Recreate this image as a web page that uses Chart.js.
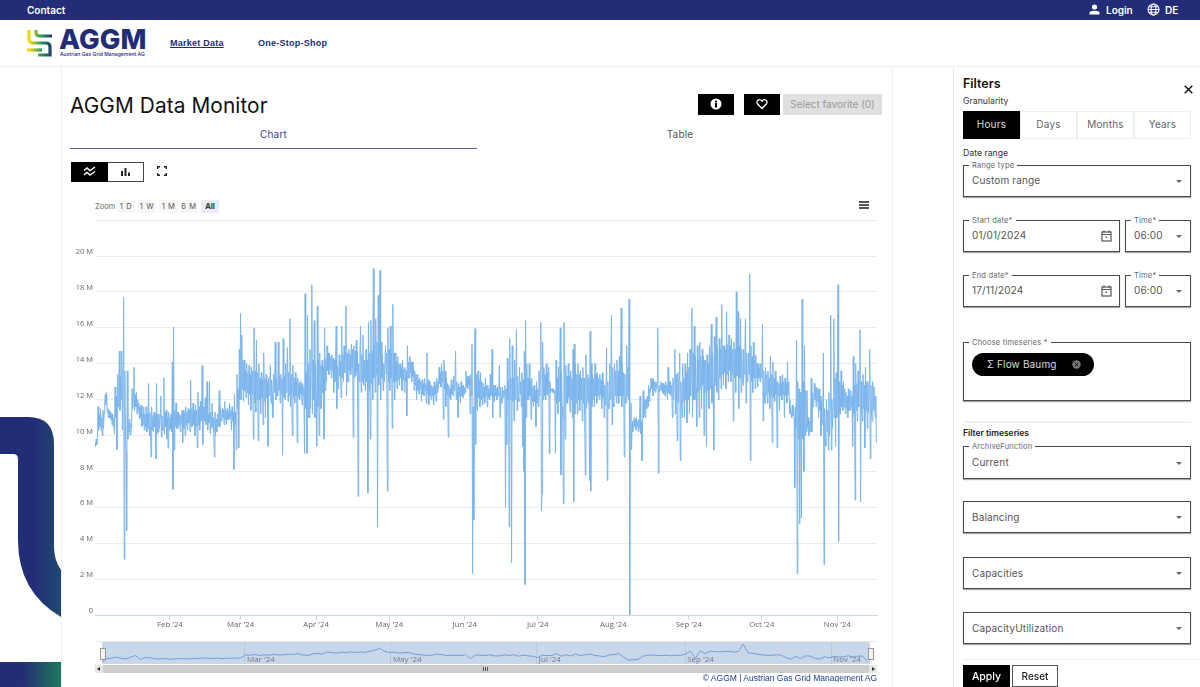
<!DOCTYPE html>
<html lang="en">
<head>
<meta charset="utf-8">
<title>AGGM Data Monitor</title>
<script src="https://cdn.jsdelivr.net/npm/chart.js@4"></script>
<style>
html, body { margin: 0; padding: 0; width: 1200px; height: 687px; overflow: hidden; background: #fff; font-family: Inter, "Open Sans", sans-serif; color: #222; }
.abs, .field, .btn, canvas { position: absolute; }
.topbar { left: 0; top: 0; width: 1200px; height: 20px; background: #232c77; }
.toptext { color: #fff; font-size: 10px; font-weight: 600; top: 4px; line-height: 12px; }
.navlink { top: 38px; font: bold 9px "Liberation Sans", sans-serif; letter-spacing: .25px; color: #232c77; }
.field { border: 1px solid #4a4a4a; box-shadow: 0 1px 1px #aaa; box-sizing: border-box; background: #fff; }
.field .lab { position: absolute; left: 5px; top: -5px; background: #fff; padding: 0 3px; font-size: 7.5px; line-height: 9px; color: #666; letter-spacing: .2px; white-space: nowrap; }
.field .val { position: absolute; left: 8px; top: 50%; transform: translateY(-50%); font-size: 10px; color: #555; letter-spacing: .15px; white-space: nowrap; }
.field .lab + .val { margin-top: -1px; }
.field .arr { position: absolute; right: 8px; top: 50%; margin-top: -1px; width: 0; height: 0; border-left: 3px solid transparent; border-right: 3px solid transparent; border-top: 3px solid #666; }
.gran { top: 111px; height: 28px; width: 57px; box-sizing: border-box; border: 1px solid #eee; text-align: center; line-height: 25px; font-size: 10px; color: #666; letter-spacing: .2px; }
.zbtn { top: 200px; height: 13px; line-height: 13px; background: #f7f7f7; text-align: center; font-size: 7.5px; letter-spacing: .6px; color: #555; }
.hamb { left: 859px; width: 10px; height: 1.5px; background: #555; }
</style>
</head>
<body>
<!-- left decoration -->
<svg class="abs" style="left:0;top:400px" width="61" height="287">
  <defs>
    <linearGradient id="decoA" x1="0" x2="1" y1="0" y2="0"><stop offset=".55" stop-color="#232c77"/><stop offset="1" stop-color="#1f4a70"/></linearGradient>
    <linearGradient id="decoB" x1="0" x2="1" y1="0" y2="0"><stop offset=".35" stop-color="#232c77"/><stop offset="1" stop-color="#1c7a5a"/></linearGradient>
  </defs>
  <path d="M0 17 H28 Q54 17 54 44 V147 Q54 160 61 170 V217 Q18 192 18 140 V59 Q18 54 13 54 H0 Z" fill="url(#decoA)"/>
  <rect x="0" y="262" width="61" height="25" fill="url(#decoB)"/>
</svg>

<!-- header -->
<div class="abs topbar"></div>
<div class="abs toptext" style="left:27px">Contact</div>
<svg class="abs" style="left:1089px;top:4px" width="11" height="11" viewBox="0 0 11 11"><circle cx="5.5" cy="3" r="2.6" fill="#fff"/><path d="M0.5 10.5 V8.8 Q0.5 6.8 5.5 6.8 Q10.5 6.8 10.5 8.8 V10.5 Z" fill="#fff"/></svg>
<div class="abs toptext" style="left:1106px">Login</div>
<svg class="abs" style="left:1147px;top:3px" width="13" height="13" viewBox="0 0 13 13" fill="none" stroke="#fff" stroke-width="1.1"><circle cx="6.5" cy="6.5" r="5.5"/><ellipse cx="6.5" cy="6.5" rx="2.4" ry="5.5"/><path d="M1 6.5H12M1.8 3.8H11.2M1.8 9.2H11.2"/></svg>
<div class="abs toptext" style="left:1165px">DE</div>

<svg class="abs" style="left:26px;top:28px" width="30" height="30" viewBox="0 0 30 30" fill="none" stroke-width="3.2">
  <defs>
    <linearGradient id="logoG" gradientUnits="userSpaceOnUse" x1="0" x2="27" y1="0" y2="0"><stop offset=".15" stop-color="#f2d90f"/><stop offset=".55" stop-color="#2c9a58"/><stop offset="1" stop-color="#232c77"/></linearGradient>
  </defs>
  <path d="M3 2 V11 Q3 15 7 15 H20 Q24 15 24 19 V27 H12" stroke="url(#logoG)"/>
  <path d="M10 2 V5 Q10 8 14 8 H26" stroke="url(#logoG)"/>
  <path d="M1 22 H16" stroke="url(#logoG)"/>
</svg>
<div class="abs" style="left:59px;top:24px;font:800 27.5px/30px Inter,sans-serif;color:#232c77;letter-spacing:.1px">AGGM</div>
<div class="abs" style="left:60px;top:51px;font:500 5.1px/7px Inter,sans-serif;color:#232c77;white-space:nowrap">Austrian Gas Grid Management AG</div>
<div class="abs navlink" style="left:170px;text-decoration:underline">Market Data</div>
<div class="abs navlink" style="left:258px">One-Stop-Shop</div>
<div class="abs" style="left:0;top:66px;width:1200px;height:1px;background:#eee"></div>

<!-- card -->
<div class="abs" style="left:61px;top:67px;width:1px;height:620px;background:#eee"></div>
<div class="abs" style="left:892px;top:67px;width:1px;height:620px;background:#eee"></div>
<div class="abs" style="left:70px;top:92px;font:400 20.8px/28px Inter,sans-serif;color:#111;letter-spacing:.1px">AGGM Data Monitor</div>

<div class="abs" style="left:698px;top:94px;width:36px;height:21px;background:#000"></div>
<svg class="abs" style="left:710px;top:98px" width="12" height="12" viewBox="0 0 12 12"><circle cx="6" cy="6" r="5.5" fill="#fff"/><rect x="5" y="5" width="2" height="4.5" fill="#000"/><rect x="5" y="2.6" width="2" height="1.7" fill="#000"/></svg>
<div class="abs" style="left:744px;top:94px;width:36px;height:21px;background:#000"></div>
<svg class="abs" style="left:756px;top:98px" width="12" height="12" viewBox="0 0 12 12" fill="none" stroke="#fff" stroke-width="1.3"><path d="M6 10.5 L1.6 6 Q0 3.6 2.2 2 Q4.4 1 6 3.2 Q7.6 1 9.8 2 Q12 3.6 10.4 6 Z"/></svg>
<div class="abs" style="left:783px;top:94px;width:99px;height:21px;background:#e0e0e0;color:#999;font-size:10px;line-height:21px;text-align:center;white-space:nowrap">Select favorite (0)</div>

<div class="abs" style="left:70px;top:128px;width:407px;text-align:center;font-size:10px;line-height:13px;color:#3d4382;letter-spacing:.2px">Chart</div>
<div class="abs" style="left:477px;top:128px;width:406px;text-align:center;font-size:10px;line-height:13px;color:#555;letter-spacing:.2px">Table</div>
<div class="abs" style="left:70px;top:148px;width:407px;height:1px;background:#5b6299"></div>

<div class="abs" style="left:71px;top:162px;width:73px;height:20px;box-sizing:border-box;border:1px solid #444"></div>
<div class="abs" style="left:71px;top:162px;width:37px;height:20px;background:#000"></div>
<svg class="abs" style="left:83px;top:166px" width="13" height="11" viewBox="0 0 13 11" fill="none" stroke="#fff" stroke-width="1.4"><path d="M1 4.5 L4 2 L7 4.5 L12 1"/><path d="M1 9 L4 6.5 L7 9 L12 5.5"/></svg>
<svg class="abs" style="left:120px;top:167px" width="11" height="10" viewBox="0 0 11 10" fill="#222"><rect x="1" y="4" width="2" height="5"/><rect x="4.5" y="1" width="2" height="8"/><rect x="8" y="5.5" width="2" height="3.5"/></svg>
<svg class="abs" style="left:157px;top:166px" width="10" height="10" viewBox="0 0 10 10" fill="none" stroke="#222" stroke-width="1.4"><path d="M.7 3 V.7 H3 M7 .7 H9.3 V3 M9.3 7 V9.3 H7 M3 9.3 H.7 V7"/></svg>

<!-- chart toolbar -->
<div class="abs" style="left:95px;top:200px;font-size:7.5px;line-height:13px;color:#666">Zoom</div>
<div class="abs zbtn" style="left:117px;width:18px">1 D</div>
<div class="abs zbtn" style="left:138px;width:18px">1 W</div>
<div class="abs zbtn" style="left:159px;width:19px">1 M</div>
<div class="abs zbtn" style="left:180px;width:18px">6 M</div>
<div class="abs zbtn" style="left:201px;width:18px;background:#e6ebf5;color:#333;font-weight:700;letter-spacing:0">All</div>
<div class="abs hamb" style="top:201px"></div>
<div class="abs hamb" style="top:204px"></div>
<div class="abs hamb" style="top:207px"></div>
<div class="abs" style="left:95px;top:220px;width:782px;height:1px;background:#e6e6e6"></div>

<canvas id="flowChart" width="830" height="416" style="left:60px;top:222px"></canvas>

<!-- navigator -->
<div class="abs" style="left:95px;top:641px;width:782px;height:1px;background:#e6e6e6"></div>
<canvas id="navChart" width="768" height="22" style="left:102px;top:642px;background:#cad6ea"></canvas>
<div class="abs" style="left:100px;top:648px;width:4px;height:10px;background:#f2f2f2;border:1px solid #999"></div>
<div class="abs" style="left:868px;top:648px;width:4px;height:10px;background:#f2f2f2;border:1px solid #999"></div>
<div class="abs" style="left:95px;top:665px;width:782px;height:8px;background:#ccc"></div>
<div class="abs" style="left:95px;top:665px;width:8px;height:8px;background:#e6e6e6"></div>
<div class="abs" style="left:869px;top:665px;width:8px;height:8px;background:#e6e6e6"></div>
<div class="abs" style="left:97px;top:667px;width:0;height:0;border:2px solid transparent;border-right:3px solid #333;border-left:0"></div>
<div class="abs" style="left:872px;top:667px;width:0;height:0;border:2px solid transparent;border-left:3px solid #333;border-right:0"></div>
<div class="abs" style="left:483px;top:667px;width:5px;height:4px;background:repeating-linear-gradient(90deg,#555 0 1px,#ccc 1px 2px)"></div>
<div class="abs" style="left:600px;top:673px;width:277px;height:9px;overflow:hidden;text-align:right;font:8.5px/10px 'Liberation Sans',sans-serif;color:#1a3f8f;white-space:nowrap">© AGGM | Austrian Gas Grid Management AG</div>

<!-- filters -->
<div class="abs" style="left:953px;top:67px;width:1px;height:620px;background:#e8e8e8"></div>
<div class="abs" style="left:963px;top:76px;font:600 12.5px/16px Inter,sans-serif;color:#111">Filters</div>
<svg class="abs" style="left:1184px;top:85px" width="9" height="9" viewBox="0 0 9 9" stroke="#111" stroke-width="1.4"><path d="M.7 .7 L8.3 8.3 M8.3 .7 L.7 8.3"/></svg>
<div class="abs" style="left:963px;top:96px;font-size:8.7px;line-height:11px;color:#333">Granularity</div>
<div class="abs gran" style="left:963px;background:#000;color:#ddd;border-color:#000">Hours</div>
<div class="abs gran" style="left:1020px">Days</div>
<div class="abs gran" style="left:1077px">Months</div>
<div class="abs gran" style="left:1134px">Years</div>
<div class="abs" style="left:963px;top:148px;font-size:8.7px;line-height:11px;color:#333">Date range</div>

<div class="field" style="left:963px;top:165px;width:228px;height:32px"><span class="lab">Range type</span><span class="val">Custom range</span><span class="arr"></span></div>
<div class="field" style="left:963px;top:220px;width:157px;height:32px"><span class="lab">Start date*</span><span class="val">01/01/2024</span>
  <svg style="position:absolute;left:137px;top:9px" width="11" height="12" viewBox="0 0 11 12" fill="none" stroke="#555" stroke-width="1.2"><rect x="1" y="2" width="9" height="9"/><path d="M1 4.5H10M3 .5V2.5M8 .5V2.5"/><rect x="4.5" y="6.5" width="1.5" height="1.5" fill="#555" stroke="none"/></svg></div>
<div class="field" style="left:1125px;top:220px;width:66px;height:32px"><span class="lab">Time*</span><span class="val">06:00</span><span class="arr"></span></div>
<div class="field" style="left:963px;top:275px;width:157px;height:32px"><span class="lab">End date*</span><span class="val">17/11/2024</span>
  <svg style="position:absolute;left:137px;top:9px" width="11" height="12" viewBox="0 0 11 12" fill="none" stroke="#555" stroke-width="1.2"><rect x="1" y="2" width="9" height="9"/><path d="M1 4.5H10M3 .5V2.5M8 .5V2.5"/><rect x="4.5" y="6.5" width="1.5" height="1.5" fill="#555" stroke="none"/></svg></div>
<div class="field" style="left:1125px;top:275px;width:66px;height:32px"><span class="lab">Time*</span><span class="val">06:00</span><span class="arr"></span></div>

<div class="field" style="left:963px;top:342px;width:228px;height:59px"><span class="lab">Choose timeseries *</span></div>
<div class="abs" style="left:972px;top:353px;width:122px;height:23px;border-radius:12px;background:#000"></div>
<div class="abs" style="left:987px;top:353px;font-size:10px;line-height:23px;color:#ddd;letter-spacing:.15px;white-space:nowrap">Σ Flow Baumg</div>
<svg class="abs" style="left:1072px;top:360px" width="9" height="9" viewBox="0 0 9 9"><circle cx="4.5" cy="4.5" r="4.2" fill="#777"/><path d="M2.8 2.8 L6.2 6.2 M6.2 2.8 L2.8 6.2" stroke="#111" stroke-width="1"/></svg>

<div class="abs" style="left:963px;top:421px;width:228px;height:2px;background:#f0f0f0"></div>
<div class="abs" style="left:963px;top:428px;font-size:8.5px;line-height:11px;font-weight:600;color:#222">Filter timeseries</div>
<div class="field" style="left:963px;top:446px;width:228px;height:33px"><span class="lab">ArchiveFunction</span><span class="val">Current</span><span class="arr"></span></div>
<div class="field" style="left:963px;top:501px;width:228px;height:32px"><span class="val">Balancing</span><span class="arr"></span></div>
<div class="field" style="left:963px;top:557px;width:228px;height:32px"><span class="val">Capacities</span><span class="arr"></span></div>
<div class="field" style="left:963px;top:612px;width:228px;height:32px"><span class="val">CapacityUtilization</span><span class="arr"></span></div>
<div class="abs" style="left:963px;top:659px;width:237px;height:1px;background:#eee"></div>
<div class="abs" style="left:963px;top:665px;width:47px;height:22px;background:#000;color:#fff;font-size:10.5px;font-weight:500;line-height:24px;text-align:center">Apply</div>
<div class="abs" style="left:1012px;top:665px;width:46px;height:22px;box-sizing:border-box;border:1px solid #555;color:#222;font-size:10px;font-weight:500;line-height:20px;text-align:center">Reset</div>

<script>
// flow, four readings per day, in millions (one row = five days)
const janFlow = [
    9.6,9.4,9.8,9.5, 9.9,11.6,10.3,11.2, 10.5,11.5,10.3,11.0, 10.0,11.4,10.4,11.2, 11.8,12.3,11.7,12.4,
    11.3,11.5,11.0,11.4, 11.0,11.3,10.9,11.2, 10.6,11.2,10.5,11.0, 10.1,12.7,11.0,12.2, 9.2,13.4,11.6,12.8,
    14.7,11.4,13.3,12.0, 14.7,10.3,13.8,17.7, 3.1,13.6,10.2,9.1, 4.7,13.6,9.8,10.7, 10.2,10.9,10.0,10.6,
    10.4,12.6,11.5,12.4, 13.8,11.4,12.3,11.6, 12.4,11.2,12.0,11.4, 11.8,10.9,11.6,11.0, 11.7,10.5,11.2,10.6,
    11.6,10.3,11.2,10.5, 11.6,10.2,11.2,10.4, 12.9,10.0,11.3,10.5, 8.8,11.6,10.3,11.1, 10.2,11.3,10.5,11.2,
    8.7,12.9,10.1,11.2, 10.2,11.2,10.4,11.0, 12.2,9.9,11.1,10.3, 10.3,13.2,10.1,11.3, 10.5,11.4,9.8,11.0,
    9.3,11.3,10.3,11.0];
const febFlow = [
    10.4,11.2,10.2,14.1, 7.0,16.05,9.2,11.4, 10.5,11.8,10.4,11.3, 10.4,11.3,10.6,11.2, 10.2,11.1,10.7,11.4,
    9.6,11.4,10.4,11.2, 10.0,11.6,10.6,11.3, 10.3,11.5,10.7,11.4, 10.2,13.1,10.5,11.5, 10.5,11.8,10.6,11.4,
    10.0,11.7,10.5,11.4, 9.3,12.4,10.6,11.6, 10.3,11.9,10.8,11.5, 13.9,9.5,11.0,11.6, 10.8,12.1,10.6,11.5,
    13.0,10.3,11.2,10.7, 13.0,10.1,11.3,10.4, 11.8,10.5,11.0,10.2, 8.8,11.3,10.0,10.9, 10.2,11.2,10.5,11.0,
    12.5,10.5,11.6,10.9, 10.8,11.5,11.0,11.4, 10.6,11.9,10.9,11.4, 10.6,11.5,10.9,11.3, 10.9,11.8,11.0,11.4,
    10.3,11.6,10.8,11.3, 8.1,12.3,10.6,11.3, 9.2,13.4,11.5,12.6, 9.3,14.8,12.0,16.8];
const marFlow = [
    12.0,15.6,12.6,14.2, 11.9,14.2,12.5,13.6, 12.1,14.0,12.4,13.5, 11.7,13.9,12.3,13.4, 11.4,13.8,12.3,13.6,
    9.8,16.0,11.8,13.6, 11.3,15.3,12.0,13.5, 9.7,14.0,12.0,13.2, 11.2,13.5,12.1,13.1, 10.6,14.6,11.9,13.2,
    11.0,13.4,12.1,13.0, 9.4,13.2,12.2,13.0, 13.9,11.8,13.1,12.3, 11.0,13.4,12.4,13.2, 15.2,12.0,13.2,12.4,
    12.2,15.2,12.5,13.3, 11.8,13.4,12.3,13.2, 8.9,15.4,12.1,13.3, 12.0,14.0,12.4,13.4, 14.9,11.9,13.5,12.2,
    16.5,11.6,13.4,12.3, 10.0,13.9,12.1,13.2, 11.8,13.5,12.2,13.0, 9.6,13.2,12.1,12.9, 12.0,13.0,12.3,12.8,
    11.7,12.9,12.2,12.7, 9.0,17.9,11.5,13.5, 9.0,16.7,11.0,14.0, 11.0,14.8,11.5,13.7, 18.4,11.2,14.2,12.0,
    16.4,11.0,14.0,12.0];
const aprFlow = [
    9.4,17.2,11.6,14.2, 10.0,14.6,11.5,13.9, 11.5,14.2,12.4,13.8, 9.8,16.0,12.5,14.3, 13.0,15.0,13.6,14.6,
    13.4,14.6,13.7,14.4, 13.2,14.5,13.6,14.3, 12.4,14.2,13.0,13.8, 16.1,11.5,13.9,12.6, 13.0,14.5,13.3,14.1,
    12.1,16.1,13.2,14.5, 13.0,15.0,13.5,14.6, 17.2,12.2,14.6,13.0, 13.0,14.8,13.6,14.5, 13.4,15.1,13.8,14.8,
    9.9,15.0,13.2,14.7, 13.3,15.3,13.5,14.6, 6.6,14.0,13.0,14.6, 16.1,12.4,14.5,13.0, 15.6,12.8,14.2,13.2,
    12.5,14.8,13.0,14.2, 6.8,16.3,12.5,14.6, 9.8,16.4,12.9,14.7, 12.0,19.3,13.2,15.0, 12.4,16.5,13.4,15.2,
    4.9,17.8,12.8,15.0, 19.2,12.0,15.2,13.2, 14.5,12.5,14.0,13.0, 13.0,15.0,13.4,14.6, 6.9,16.0,13.0,14.8];
const mayFlow = [
    12.5,16.1,13.2,14.6, 10.4,17.3,13.0,14.6, 12.0,14.6,13.0,14.1, 12.6,14.4,13.1,14.0, 12.8,14.0,13.2,13.8,
    12.5,14.2,13.1,13.7, 12.4,13.8,13.0,13.6, 11.1,15.0,13.2,14.1, 13.2,14.4,13.5,14.1, 13.0,14.1,13.3,13.8,
    12.5,13.6,12.8,13.4, 12.0,13.4,12.5,13.1, 12.3,13.2,12.6,13.0, 11.9,13.1,12.3,12.9, 12.2,13.2,12.5,12.9,
    11.8,14.6,12.3,13.1, 11.7,13.0,12.2,12.8, 12.0,12.8,12.2,12.7, 11.7,13.0,12.3,12.8, 11.9,13.2,12.4,13.0,
    12.6,13.8,12.9,13.5, 12.7,14.0,13.0,13.6, 10.9,14.2,12.6,13.6, 11.6,13.2,12.3,12.9, 9.9,12.8,12.1,12.6,
    12.0,13.1,12.3,12.8, 12.2,13.3,12.5,13.0, 14.7,12.0,13.0,12.4, 11.0,12.9,12.2,12.7, 11.8,13.0,12.2,12.8,
    12.1,12.8,12.3,12.7];
const junFlow = [
    12.4,13.6,12.7,13.3, 12.6,13.3,12.8,13.2, 11.2,13.4,12.2,15.1, 2.3,11.6,5.3,13.8, 15.95,9.5,13.4,11.8,
    11.4,13.6,12.1,13.1, 11.6,13.5,12.0,13.0, 11.7,12.9,12.1,12.7, 11.8,13.2,12.2,12.8, 11.6,12.8,12.1,12.6,
    12.0,13.4,12.2,12.8, 14.8,11.0,12.8,12.1, 11.9,12.8,12.2,12.6, 12.0,12.7,12.2,12.6, 13.9,11.0,12.7,12.1,
    11.8,12.7,12.1,12.5, 12.2,12.8,6.0,12.6, 9.5,14.3,12.0,13.0, 4.9,15.4,12.0,13.2, 2.9,15.0,11.9,13.2,
    10.8,14.2,12.0,13.0, 15.9,11.4,13.3,12.1, 11.9,13.8,12.3,13.0, 11.6,13.5,9.4,13.1, 8.0,14.7,1.7,16.4,
    11.0,14.0,12.0,13.2, 12.0,14.0,12.2,13.0, 10.9,13.2,11.9,12.7, 11.6,12.8,11.9,12.5, 10.5,13.0,11.8,12.6];
const julFlow = [
    11.6,13.6,12.2,13.2, 16.3,5.8,6.8,15.2, 12.0,13.8,12.2,13.4, 12.0,14.0,12.3,13.5, 12.2,13.8,9.0,13.0,
    12.4,12.6,12.5,12.6, 12.4,12.6,12.3,12.5, 9.0,14.2,11.8,13.2, 11.2,13.8,11.9,13.4, 16.0,7.8,13.6,11.6,
    11.0,6.2,16.3,12.0, 9.8,13.9,11.8,13.3, 11.8,14.0,12.1,13.3, 11.3,13.6,12.0,13.2, 11.0,14.8,6.3,15.1,
    11.2,14.0,11.8,13.4, 11.2,14.0,12.0,13.4, 11.4,13.6,12.0,13.2, 10.8,13.8,11.8,13.2, 11.2,7.8,14.5,11.5,
    12.0,13.4,11.8,13.2, 7.5,15.8,6.9,14.0, 11.6,13.4,12.0,13.2, 11.6,14.0,12.2,13.4, 11.8,13.5,12.2,13.2,
    12.0,13.4,12.3,13.1, 11.5,13.5,12.1,13.0, 11.0,12.8,11.7,12.6, 14.9,7.5,13.0,11.5, 11.5,14.0,12.0,13.4,
    16.7,10.6,13.8,11.8];
const augFlow = [
    11.6,14.0,12.2,13.6, 11.8,14.2,12.2,13.6, 11.8,14.4,12.2,13.8, 17.1,11.6,14.0,12.2, 13.5,8.8,13.4,11.8,
    11.8,15.0,12.2,13.8, 12.0,17.6,0,11.0, 11.8,9.2,10.8,10.2, 10.6,11.0,10.5,10.9, 10.3,11.0,10.5,10.8,
    10.2,10.9,10.4,12.2, 10.1,10.8,8.6,10.5, 12.5,11.0,12.0,11.4, 11.0,12.0,11.5,12.2, 11.6,12.8,11.9,12.6,
    12.4,13.2,12.6,13.1, 12.2,13.2,12.5,13.0, 12.4,13.0,12.6,12.9, 16.0,7.9,12.8,12.4, 12.6,13.0,12.5,12.9,
    12.4,12.9,12.3,12.8, 12.2,13.0,12.4,12.8, 12.0,13.8,12.4,13.0, 12.3,13.0,12.2,12.8, 11.0,13.2,12.0,13.0,
    14.8,11.2,13.4,11.9, 9.7,13.5,11.8,13.2, 14.6,8.6,13.0,11.8, 11.0,14.0,11.9,13.2, 11.0,14.0,12.0,13.5,
    10.7,14.6,12.0,13.8];
const sepFlow = [
    11.2,14.8,12.2,14.0, 17.1,11.0,14.6,12.0, 16.1,12.0,14.4,12.6, 10.5,15.0,12.4,14.2, 11.0,15.2,12.6,14.4,
    11.5,14.8,12.8,14.4, 10.0,14.2,12.4,14.2, 9.4,14.5,12.5,14.0, 11.5,15.0,12.6,14.2, 16.2,11.8,14.6,12.8,
    9.2,15.5,12.8,14.5, 16.6,12.4,15.0,13.2, 12.0,15.4,13.2,14.8, 12.6,17.3,13.4,15.0, 12.8,15.0,13.5,14.8,
    12.6,16.9,13.4,15.1, 13.0,15.6,13.6,15.0, 13.0,15.4,13.4,14.8, 10.8,15.2,13.2,14.8, 12.4,18.0,13.3,15.0,
    16.9,11.5,15.0,13.2, 16.5,12.4,14.8,13.2, 12.8,14.8,13.4,14.4, 16.5,11.8,14.6,13.0, 13.2,14.6,13.4,19.0,
    8.6,15.0,13.0,14.4, 12.4,15.2,13.2,14.2, 12.6,14.5,13.2,14.0, 12.7,14.0,13.2,13.8, 13.0,14.0,13.2,13.8];
const octFlow = [
    16.2,10.8,13.6,12.4, 11.8,13.8,12.3,13.4, 11.8,13.6,12.4,13.2, 11.5,14.4,12.2,13.4, 9.6,14.1,12.1,13.2,
    11.9,13.6,12.3,13.0, 9.3,13.0,12.2,12.9, 11.4,13.3,12.2,12.9, 12.0,13.4,12.3,13.0, 11.0,13.2,12.2,12.9,
    11.8,14.1,12.3,13.0, 12.0,11.2,11.6,11.2, 11.0,11.7,11.1,11.6, 11.0,7.1,11.6,10.4, 15.3,2.3,13.0,9.8,
    12.6,5.1,12.4,10.0, 5.4,17.6,9.8,13.0, 8.0,15.0,10.0,12.5, 10.2,12.5,10.4,11.0, 10.0,10.8,10.2,10.7,
    13.2,10.2,12.4,11.6, 11.8,12.9,12.0,12.7, 11.6,12.7,11.9,12.6, 11.0,12.6,11.4,12.2, 10.0,12.0,10.6,11.6,
    14.6,2.8,11.5,9.8, 9.4,12.0,10.2,11.4, 9.2,12.4,10.0,11.6, 16.7,9.2,12.0,10.4, 11.5,16.5,11.0,13.2,
    9.4,13.5,11.0,13.0];
const novFlow = [
    18.4,4.1,13.0,11.2, 11.2,13.6,11.6,12.8, 11.4,13.0,11.6,12.6, 11.2,12.4,11.5,12.2, 11.0,12.6,11.4,12.2,
    11.4,12.5,11.6,12.2, 9.4,14.4,11.2,12.8, 6.4,14.0,11.4,12.9, 10.8,13.6,11.6,13.0, 15.9,6.3,13.0,11.2,
    10.8,13.4,11.5,12.8, 9.3,13.8,11.4,13.0, 10.4,13.0,11.3,12.8, 14.8,8.7,12.8,11.2, 10.8,13.0,11.4,12.7,
    12.0,11.0,12.2,9.6];

// coarser series shown in the navigator, one reading every two days
const navFlow = [9.6,11.0,11.3,11.8,11.2,10.9,11.7,12.6,10.6,11.6,11.5,11.0,10.9,11.1,10.8,10.9,
    11.1,11.0,10.9,11.2,11.0,11.4,11.2,11.0,11.4,11.0,11.3,11.2,11.3,11.4,
    12.8,12.7,13.0,12.6,12.9,12.7,13.1,12.8,12.9,13.2,13.0,13.4,12.8,12.6,13.3,13.6,
    13.2,14.2,14.0,13.6,14.2,13.8,14.3,14.0,14.2,14.1,14.6,15.0,16.0,14.6,14.0,
    14.2,13.7,13.9,14.0,13.4,13.0,12.8,12.6,12.7,13.3,13.0,12.5,12.6,12.7,12.5,13.0,
    11.0,12.8,12.7,12.5,12.9,12.4,12.3,12.9,12.5,12.9,12.2,12.7,12.4,12.2,
    11.5,12.7,12.5,12.6,13.4,12.2,12.9,12.3,13.3,12.5,12.9,13.2,12.6,12.3,12.0,12.8,
    13.1,13.4,11.8,10.4,10.5,10.7,12.2,12.7,12.8,12.6,12.5,12.7,12.4,12.6,12.7,
    13.2,14.6,11.2,14.8,13.4,14.6,14.4,14.3,14.5,14.6,14.2,14.5,18.0,13.8,13.6,
    13.2,12.8,12.7,12.6,12.9,12.7,11.4,10.8,12.2,11.0,12.4,12.3,11.2,10.8,12.0,11.4,
    12.2,11.8,12.0,12.4,11.9,12.3,12.2,9.6];

const tickDates = ['2024-02-01','2024-03-01','2024-04-01','2024-05-01','2024-06-01','2024-07-01','2024-08-01','2024-09-01','2024-10-01','2024-11-01'];
const tickLabels = ["Feb '24","Mar '24","Apr '24","May '24","Jun '24","Jul '24","Aug '24","Sep '24","Oct '24","Nov '24"];
const navTickDates = ['2024-03-01','2024-05-01','2024-07-01','2024-09-01','2024-11-01'];
const navTickLabels = ["Mar '24","May '24","Jul '24","Sep '24","Nov '24"];

const startDate = Date.parse('2024-01-01T06:00:00Z');
const endDate = Date.parse('2024-11-17T06:00:00Z');
const flowStep = 6 * 3600 * 1000;
const navStep = 2 * 24 * 3600 * 1000;
const lineColor = '#7cb5ec';

function drawFlowChart() {
    const flowValues = [].concat(janFlow, febFlow, marFlow, aprFlow, mayFlow, junFlow, julFlow, augFlow, sepFlow, octFlow, novFlow);
    const points = flowValues.map((v, i) => ({ x: startDate + i * flowStep, y: v }));
    new Chart(document.getElementById('flowChart'), {
        type: 'line',
        data: { datasets: [{ data: points, borderColor: lineColor, borderWidth: 1, pointRadius: 0, fill: false, tension: 0 }] },
        options: {
            responsive: false,
            animation: false,
            events: [],
            layout: { padding: { top: 34, right: 13 } },
            plugins: { legend: { display: false }, tooltip: { enabled: false } },
            scales: {
                x: {
                    type: 'linear',
                    min: startDate,
                    max: endDate,
                    afterBuildTicks: (scale) => { scale.ticks = tickDates.map(d => ({ value: Date.parse(d) })); },
                    afterFit: (scale) => { scale.height = 23; },
                    grid: { drawOnChartArea: false, tickLength: 5, tickColor: '#ccd6eb' },
                    border: { color: '#ccd6eb' },
                    ticks: {
                        autoSkip: false, maxRotation: 0, padding: 0, color: '#666',
                        font: { family: 'Open Sans', size: 7.8 },
                        callback: (value, index) => tickLabels[index]
                    }
                },
                y: {
                    min: 0,
                    max: 20,
                    afterFit: (scale) => { scale.width = 35; },
                    grid: { color: '#ececec', drawTicks: false },
                    border: { display: false },
                    ticks: {
                        stepSize: 2, padding: 2, labelOffset: -4, color: '#666',
                        font: { family: 'Open Sans', size: 7.5 },
                        callback: (value) => value === 0 ? '0' : value + ' M'
                    }
                }
            }
        }
    });
}

// labels of the navigator sit inside its plot, so they are written after the line
const navLabels = {
    id: 'navLabels',
    afterDatasetsDraw(chart) {
        const ctx = chart.ctx;
        ctx.save();
        ctx.font = '8px "Open Sans"';
        ctx.fillStyle = '#777';
        ctx.textBaseline = 'bottom';
        navTickDates.forEach((d, i) => {
            ctx.fillText(navTickLabels[i], chart.scales.x.getPixelForValue(Date.parse(d)) + 2, chart.chartArea.bottom);
        });
        ctx.restore();
    }
};

function drawNavigator() {
    const points = navFlow.map((v, i) => ({ x: startDate + i * navStep, y: v }));
    new Chart(document.getElementById('navChart'), {
        type: 'line',
        data: { datasets: [{ data: points, borderColor: '#6f9fd8', borderWidth: 1, pointRadius: 0, fill: false, tension: 0 }] },
        plugins: [navLabels],
        options: {
            responsive: false,
            animation: false,
            events: [],
            layout: { padding: 0 },
            plugins: { legend: { display: false }, tooltip: { enabled: false } },
            scales: {
                x: {
                    type: 'linear',
                    min: startDate,
                    max: endDate,
                    afterBuildTicks: (scale) => { scale.ticks = navTickDates.map(d => ({ value: Date.parse(d) })); },
                    afterFit: (scale) => { scale.height = 0; },
                    grid: { color: '#b9c6dd', drawTicks: false },
                    border: { display: false },
                    ticks: { display: false }
                },
                y: { display: false, min: 8.5, max: 19 }
            }
        }
    });
}

window.addEventListener('DOMContentLoaded', function () {
    drawFlowChart();
    drawNavigator();
});
</script>
</body>
</html>
